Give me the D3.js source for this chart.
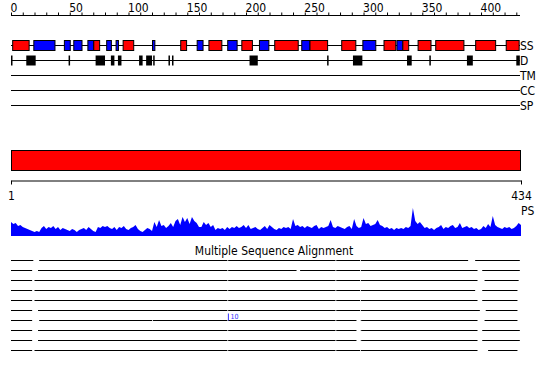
<!DOCTYPE html>
<html><head><meta charset="utf-8">
<script src="https://cdn.jsdelivr.net/npm/d3@7"></script>
<style>
body{margin:0;background:#fff;}
text{font-family:"DejaVu Sans",sans-serif;font-stretch:condensed;}
</style></head>
<body><svg id="c" width="550" height="380"></svg>
<script>
const seqLength = 434;
const topTicks = d3.range(0, 431, 10);
const topLabels = [0,50,100,150,200,250,300,350,400];
const trackNames = ["SS","D","TM","CC","SP"];
// secondary structure: [start, end, type] H = helix (red), E = strand (blue)
const ssElements = [[1,15,"H"],[19,37,"E"],[45,50,"E"],[53,60,"E"],[65,70,"E"],[70,75,"H"],[81,85,"E"],[89,91,"E"],[95,104,"H"],[120,122,"E"],[144,149,"H"],[158,163,"E"],[168,179,"H"],[184,192,"E"],[196,205,"H"],[211,219,"E"],[224,244,"H"],[247,254,"E"],[254,269,"H"],[281,293,"H"],[299,310,"E"],[317,327,"H"],[328,333,"E"],[333,338,"H"],[346,357,"H"],[361,385,"H"],[395,412,"H"],[421,432,"H"]];
// disorder segments
const disorder = [[0,1],[13,21],[49,50],[72,80],[85,88],[91,94],[109,112],[115,120],[121,122],[134,135],[137,138],[203,210],[269,270],[291,299],[337,341],[356,357],[388,393],[430,433]];
const domainRange = [0,434];
const axisLabels = ["1","434"];
// profile (every 2 residues)
const psValues = [
 14,12,13,10,11,9,8,7,6,5,4,
 5,4,8,10,7,9,8,10,7,9,
 6,8,7,6,5,7,6,4,6,7,
 8,6,9,7,5,4,9,8,10,9,
 10,8,7,9,6,9,8,10,7,6,
 8,9,11,7,5,4,6,8,7,5,
 14,9,16,10,11,8,10,13,9,15,
 17,11,19,14,18,12,19,15,13,9,
 9,14,11,13,9,11,6,8,7,8,
 6,9,7,9,8,10,8,9,11,8,
 11,7,8,9,7,6,8,10,7,11,
 9,7,6,8,7,9,8,9,7,17,
 10,11,9,10,8,10,9,8,10,11,
 7,9,8,9,10,16,9,8,10,9,
 8,7,9,10,7,17,10,8,9,18,
 12,13,10,11,12,16,11,10,8,9,
 7,8,6,8,7,8,7,9,8,10,
 28,15,12,14,11,8,9,7,8,6,
 8,9,11,7,9,8,10,11,8,9,
 13,8,9,10,8,9,7,8,6,7,
 10,8,12,9,20,11,9,8,7,9,
 8,9,7,8,10,13,11];
const psStep = 2;
const msaTitle = "Multiple Sequence Alignment";
const msaRows = [
 [[0,19],[24,389],[395,433]],
 [[0,18],[23,243],[246,397],[401,433]],
 [[0,18],[20,397],[403,432]],
 [[0,18],[20,395],[401,431]],
 [[0,18],[20,397],[401,431]],
 [[0,18],[23,399],[404,431]],
 [[0,18],[24,294],[298,397],[403,431]],
 [[0,18],[23,294],[298,397],[401,433]],
 [[0,18],[23,294],[298,397],[401,433]],
 [[0,18],[20,397],[406,431]]
];
const msaColumns = [184,276,297];
const msaExtraMarks = [[6,120]];
const msaMarker = {row:6, pos:185, label:"10"};

const svg = d3.select("#c");
const x = d3.scaleLinear().domain([0, seqLength]).range([11, 521]);

// top axis
const ta = svg.append("g").attr("transform","translate(0,15.5)")
 .call(d3.axisTop(x).tickValues(topTicks).tickSize(3).tickSizeOuter(0)
   .tickFormat(d => topLabels.includes(d) ? d : ""));
ta.select(".domain").attr("stroke","#000").attr("d", `M${x(0)},0H${x(seqLength)-1}`);
ta.selectAll(".tick line").attr("stroke","#000");
ta.selectAll(".tick text").attr("text-anchor","start").attr("dx",-1).attr("y",-4)
  .attr("font-size",12).attr("font-family","DejaVu Sans").attr("fill","#000");

// tracks
const trackY = d3.scalePoint().domain(trackNames).range([45.5,105.5]);
trackNames.forEach(n => {
  svg.append("line").attr("x1",x(0)).attr("x2",x(seqLength)-1)
   .attr("y1",trackY(n)).attr("y2",trackY(n)).attr("stroke","#000").attr("stroke-width",1);
  svg.append("text").attr("x",x(seqLength)-1).attr("y",trackY(n)).attr("dy","0.36em")
   .attr("font-size",12).text(n);
});
svg.append("g").selectAll("rect").data(ssElements).join("rect")
 .attr("x",d=>x(d[0])+0.5).attr("width",d=>x(d[1])-x(d[0]))
 .attr("y",trackY("SS")-5).attr("height",10)
 .attr("fill",d=>d[2]==="H"?"#ff0000":"#0000ff").attr("stroke","#000").attr("stroke-width",1);
svg.append("g").selectAll("rect").data(disorder).join("rect")
 .attr("x",d=>x(d[0])).attr("width",d=>Math.max(1.5,x(d[1])-x(d[0])))
 .attr("y",trackY("D")-5).attr("height",10).attr("fill","#000");

// domain bar
svg.append("rect").attr("x",x(domainRange[0])+0.5).attr("width",x(domainRange[1])-x(domainRange[0])-1)
 .attr("y",150.5).attr("height",20).attr("fill","#ff0000").attr("stroke","#000");
const ba = svg.append("g").attr("transform","translate(0,180.5)")
 .call(d3.axisBottom(x).tickValues(domainRange).tickSize(4).tickSizeOuter(0)
   .tickFormat((d,i)=>axisLabels[i]));
ba.select(".domain").attr("stroke","#000");
ba.selectAll(".tick line").attr("stroke","#000");
ba.selectAll(".tick text").attr("font-size",12).attr("font-family","DejaVu Sans").attr("y",11).attr("fill","#000");

// PS profile
const yps = d3.scaleLinear().domain([0,30]).range([236,206]);
const area = d3.area().x((d,i)=>x(i*psStep)).y0(yps(0)).y1(d=>yps(d));
svg.append("path").datum(psValues).attr("d",area).attr("fill","#0000ff");
svg.append("text").attr("x",521).attr("y",215).attr("font-size",12).text("PS");

// MSA
svg.append("text").attr("x",274).attr("y",255).attr("text-anchor","middle").attr("font-size",12).text(msaTitle);
const rowY = d3.scaleLinear().domain([0,9]).range([260.5,350.5]);
msaRows.forEach((segs,r) => {
  svg.append("g").selectAll("line").data(segs).join("line")
   .attr("x1",d=>x(d[0])).attr("x2",d=>x(d[1])).attr("y1",rowY(r)).attr("y2",rowY(r))
   .attr("stroke","#000");
  msaColumns.forEach(c => {
    svg.append("rect").attr("x",x(c)).attr("y",rowY(r)-0.5).attr("width",1).attr("height",1).attr("fill","#ccc");
  });
});
msaExtraMarks.forEach(m => svg.append("rect").attr("x",x(m[1])).attr("y",rowY(m[0])-0.5).attr("width",1).attr("height",1).attr("fill","#ccc"));
svg.append("line").attr("x1",x(msaMarker.pos)).attr("x2",x(msaMarker.pos))
 .attr("y1",rowY(msaMarker.row)-7).attr("y2",rowY(msaMarker.row)).attr("stroke","#3333ff");
svg.append("text").attr("x",x(msaMarker.pos)+2).attr("y",rowY(msaMarker.row)-2)
 .attr("font-size",7).attr("fill","#3333ff").text(msaMarker.label);
</script></body></html>
